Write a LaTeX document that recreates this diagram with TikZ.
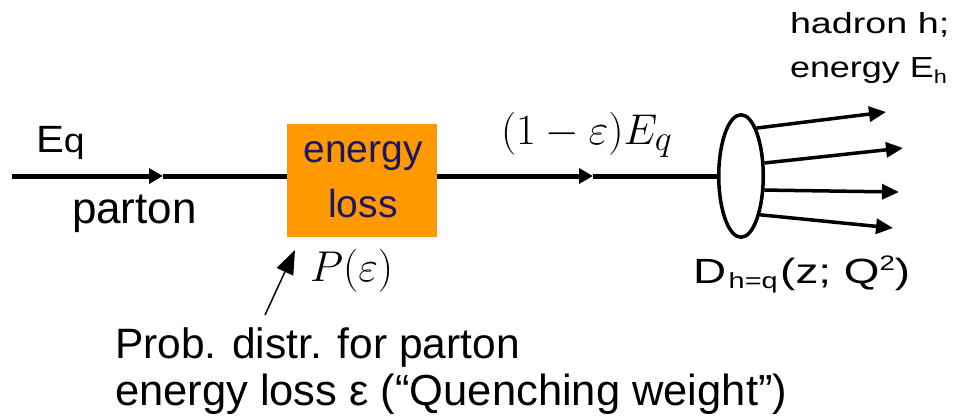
\documentclass[tikz,border=0pt]{standalone}
\usepackage{fontspec}
\setmainfont{Liberation Sans}
\usepackage{graphicx}
\usetikzlibrary{arrows.meta,shapes.geometric}
\newcommand{\fsz}[1]{\fontsize{#1}{#1}\selectfont}
\newcommand{\bigmath}[1]{\scalebox{1.73}{\Huge$#1$}}
\definecolor{boxorange}{RGB}{255,153,0}
\definecolor{boxtext}{RGB}{28,22,100}
\begin{document}
\begin{tikzpicture}[x=1pt,y=-1pt,
  thickline/.style={line width=5pt},
  midtip/.style={-{Triangle[length=14pt,width=15pt]}},
  hadarrow/.style={line width=3.5pt,-{Triangle[length=17pt,width=15pt]}},
  txt/.style={inner sep=0pt,outer sep=0pt,anchor=base west},
  bigtxt/.style={txt,font=\fsz{43}},
  boxlab/.style={inner sep=0pt,anchor=base,text=boxtext,font=\fsz{39}},
  stretched/.style={txt,font=\fsz{38}}]
\useasboundingbox (0,0) rectangle (954,416);
\fill[white] (0,0) rectangle (954,416);

% energy loss box
\node[fill=boxorange,minimum width=150pt,minimum height=113pt,inner sep=0pt,outer sep=0pt] (eloss) at (362,180.5) {};
\node[boxlab] (elossA) at (363,162) {energy};
\node[boxlab] (elossB) at (363,217) {loss};

% fragmentation ellipse
\node[draw,line width=3.5pt,ellipse,minimum width=44.5pt,minimum height=122.5pt,inner sep=0pt] (frag) at (741,176) {};

% incoming parton line
\coordinate (qin) at (12,176);
\coordinate (qmid) at (163,176);
\draw[thickline,midtip] (qin) -- (qmid);
\draw[thickline] (qmid) -- (qin -| eloss.west);

% line after energy loss
\coordinate (eout) at (eloss.east |- qin);
\coordinate (emid) at (593,176);
\draw[thickline,midtip] (eout) -- (emid);
\draw[thickline] (emid) -- (frag.west);

% hadrons
\coordinate (h1) at (886,112);
\coordinate (h2) at (903,148);
\coordinate (h3) at (899,192);
\coordinate (h4) at (893,228);
\draw[hadarrow] (frag.72) -- (h1);
\draw[hadarrow] (frag.29) -- (h2);
\draw[hadarrow] (frag.-31) -- (h3);
\draw[hadarrow] (frag.-64) -- (h4);

% P(eps) pointer
\coordinate (ptail) at (265,315);
\coordinate (ptip) at (295,250);
\draw[line width=1.5pt,-{Triangle[length=24pt,width=18pt]}] (ptail) -- (ptip);

% labels
\node[stretched] (eq) at (36,152) {\scalebox{1.1}[1]{E\fsz{34}q}};
\node[bigtxt,font=\fsz{44}] (parton) at (72,223) {parton};
\node[txt] (elab) at (501,144) {\bigmath{(1-\varepsilon)E_q}};
\node[txt] (plab) at (310,281) {\bigmath{P(\varepsilon)}};
\node[txt,font=\fsz{29}] (had1) at (790,33) {\scalebox{1.3}[1]{hadron h;}};
\node[txt,font=\fsz{29}] (had2) at (790,77) {\scalebox{1.24}[1]{energy E\raisebox{-6pt}{\fsz{19}h}}};
\node[txt,font=\fsz{35}] (dlab) at (693,283) {\scalebox{1.31}[1]{D\hspace{2pt}\raisebox{-5pt}{\fsz{22}h=q}\hspace{2pt}(z; Q\raisebox{13pt}{\fsz{21}2})}};
\node[bigtxt,font=\fsz{42.5}] (prob1) at (115,358) {Prob. distr. for parton};
\node[bigtxt,font=\fsz{43.5}] (prob2) at (115,405) {energy loss ε (“Quenching weight”)};
\end{tikzpicture}
\end{document}
